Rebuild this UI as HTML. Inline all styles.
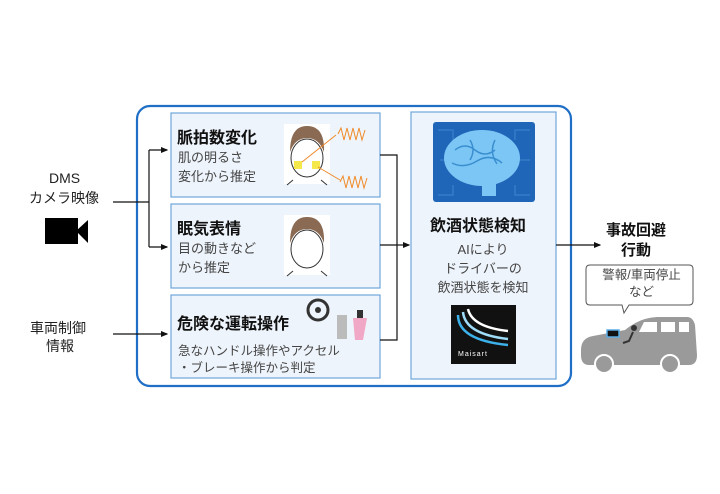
<!DOCTYPE html>
<html><head><meta charset="utf-8"><style>
body{margin:0;background:#fff;}
#c{position:relative;width:720px;height:494px;overflow:hidden;font-family:"Liberation Sans","Noto Sans CJK JP",sans-serif;color:#222;}
.t{position:absolute;white-space:nowrap;}
.b{font-weight:bold;color:#111;}
.g{color:#444;}
</style></head><body><div id="c">
<svg width="720" height="494" style="position:absolute;left:0;top:0">
<defs><marker id="a" markerWidth="6" markerHeight="6" refX="5" refY="3" orient="auto"><path d="M0,0.5 L6,3 L0,5.5z" fill="#111"/></marker></defs>
<rect x="137" y="106" width="434" height="280" rx="13" fill="none" stroke="#1f6fc7" stroke-width="2.2"/>
<rect x="171" y="113" width="209" height="84" fill="#eef4fb" stroke="#6fa6dc" stroke-width="1.2"/>
<rect x="171" y="204" width="209" height="84" fill="#eef4fb" stroke="#6fa6dc" stroke-width="1.2"/>
<rect x="171" y="295" width="209" height="83" fill="#eef4fb" stroke="#6fa6dc" stroke-width="1.2"/>
<rect x="411" y="112" width="145" height="267" fill="#eef4fb" stroke="#6fa6dc" stroke-width="1.2"/>
<g stroke="#111" stroke-width="1.2" fill="none">
<path d="M113 202 H149 M149 150 V247"/>
<path d="M149 150 H167" marker-end="url(#a)"/>
<path d="M149 247 H167" marker-end="url(#a)"/>
<path d="M113 334 H167" marker-end="url(#a)"/>
<path d="M380 155 H397 V340 H380 M380 245 H397"/>
<path d="M397 245 H409" marker-end="url(#a)"/>
<path d="M556 245 H600" marker-end="url(#a)"/>
</g>
<rect x="45" y="218" width="33" height="26" fill="#000"/><path d="M76 231 L88 220 V243z" fill="#000"/>
<!-- brain -->
<rect x="433" y="122" width="102" height="80" rx="3" fill="#1f66b8"/>
<g stroke="#3f86d0" stroke-width="1" fill="none"><path d="M438 130 h15 v10 M530 130 h-15 v10 M438 195 h15 v-10 M530 195 h-15 v-10 M440 160 h8 M520 160 h10"/></g>
<ellipse cx="482" cy="158" rx="38" ry="28" fill="#7cc6f5"/>
<rect x="482" y="178" width="14" height="18" fill="#7cc6f5"/>
<g stroke="#3a8fd0" stroke-width="1.5" fill="none"><path d="M455 150 q10 -8 20 0 t20 0 M452 163 q12 6 25 -2 t25 2 M470 140 q6 10 0 20 M495 140 q-6 12 2 24"/></g>
<rect x="451" y="305" width="65" height="59" fill="#111"/>
<g fill="none" stroke-width="2.5"><path d="M458 315 q0 25 50 30" stroke="#3db2ea"/><path d="M463 312 q2 22 45 27" stroke="#9fdcf7"/><path d="M468 309 q4 18 40 22" stroke="#fff"/></g>
<!-- faces -->
<rect x="284" y="124" width="46" height="60" fill="#fff"/>
<rect x="284" y="215" width="46" height="60" fill="#fff"/>
<g fill="#fff" stroke="#333" stroke-width="1"><ellipse cx="307" cy="158" rx="16" ry="19"/><ellipse cx="307" cy="249" rx="16" ry="19"/></g>
<path d="M290 152 q0-26 17-26 q18 0 17 26 q-5-14-17-14 q-12 0-17 14z" fill="#8a6a52"/>
<path d="M290 243 q0-26 17-26 q18 0 17 26 q-5-14-17-14 q-12 0-17 14z" fill="#8a6a52"/>
<path d="M293 180 l-6 5 M321 180 l6 5 M293 271 l-6 5 M321 271 l6 5" stroke="#333"/>
<rect x="294" y="161" width="8" height="8" fill="#f5e84a"/><rect x="312" y="161" width="8" height="8" fill="#f5e84a"/>
<g stroke="#f08a2a" stroke-width="1" fill="none"><path d="M302 162 L336 135 M318 167 L340 180"/><path d="M338 134 l3 -6 3 12 3 -12 3 12 3 -12 3 12 3 -12 3 12 3-10"/><path d="M340 182 l3 -6 3 12 3 -12 3 12 3 -12 3 12 3 -12 3 12 3-10"/></g>
<circle cx="318" cy="310" r="10" fill="none" stroke="#333" stroke-width="3"/><circle cx="318" cy="310" r="3" fill="#333"/>
<rect x="337" y="315" width="10" height="24" fill="#bbb"/><path d="M353 318 h14 l-4 22 h-8z" fill="#f1a8c6"/><rect x="357" y="310" width="6" height="8" fill="#333"/>
<path d="M590 265 h99 q4 0 4 4 v32 q0 4-4 4 h-60 l-5 8 -2-8 h-32 q-4 0-4-4 v-32 q0-4 4-4z" fill="#fff" stroke="#555" stroke-width="1"/>
<!-- car -->
<path d="M581 350 q0-12 12-14 l32-6 q14-12 32-13 h30 q6 0 8 8 l2 30 q0 10-8 10 h-100 q-8 0-8-10z" fill="#9a9a9a"/>
<g fill="#fff"><path d="M644 322 h13 v10 h-18z"/><rect x="661" y="322" width="14" height="10"/><rect x="679" y="322" width="10" height="10"/></g>
<circle cx="604" cy="364" r="9" fill="#9a9a9a" stroke="#fff" stroke-width="2"/><circle cx="670" cy="364" r="9" fill="#9a9a9a" stroke="#fff" stroke-width="2"/>
<rect x="607" y="330" width="12" height="7" fill="#111" stroke="#5aaee8" stroke-width="1.5"/>
<circle cx="634" cy="328" r="3" fill="#333"/><path d="M633 332 l-4 9 -6 2" stroke="#333" stroke-width="2" fill="none"/>
</svg>
<div class="t" style="left:49px;top:170px;font-size:14px">DMS</div>
<div class="t" style="left:29px;top:188px;font-size:14px">カメラ映像</div>
<div class="t" style="left:30px;top:318px;font-size:14px">車両制御</div>
<div class="t" style="left:46px;top:336px;font-size:14px">情報</div>
<div class="t b" style="left:177px;top:124px;font-size:16px">脈拍数変化</div>
<div class="t g" style="left:178px;top:148px;font-size:13px;line-height:19px">肌の明るさ<br>変化から推定</div>
<div class="t b" style="left:177px;top:215px;font-size:16px">眠気表情</div>
<div class="t g" style="left:178px;top:239px;font-size:13px;line-height:19px">目の動きなど<br>から推定</div>
<div class="t b" style="left:177px;top:310px;font-size:16px">危険な運転操作</div>
<div class="t g" style="left:178px;top:343px;font-size:12.5px;line-height:17px">急なハンドル操作やアクセル<br>・ブレーキ操作から判定</div>
<div class="t b" style="left:430px;top:212px;font-size:16px">飲酒状態検知</div>
<div class="t g" style="left:423px;top:240px;font-size:13px;line-height:19px;text-align:center;width:120px">AIにより<br>ドライバーの<br>飲酒状態を検知</div>
<div class="t" style="left:458px;top:351px;font-size:7px;color:#fff;letter-spacing:1px">Maisart</div>
<div class="t b" style="left:604px;top:221px;font-size:15px;line-height:20px;text-align:center;width:64px">事故回避<br>行動</div>
<div class="t g" style="left:590px;top:267px;font-size:12.5px;line-height:17px;text-align:center;width:103px">警報/車両停止<br>など</div>
</div></body></html>
